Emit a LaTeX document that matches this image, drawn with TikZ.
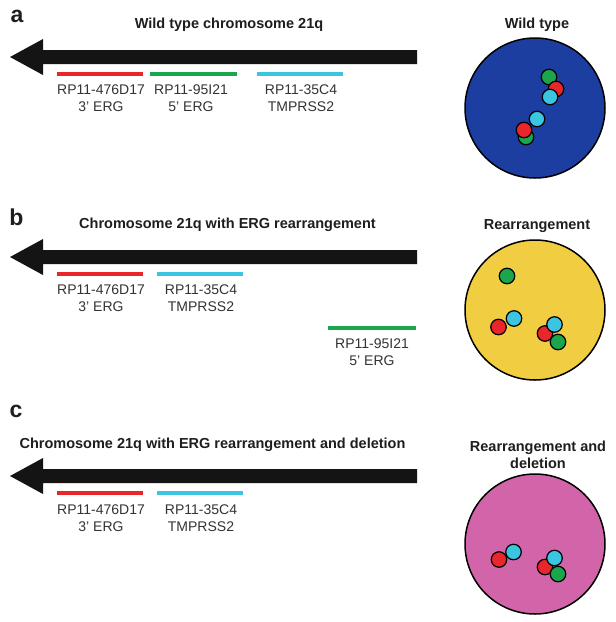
\documentclass[tikz,border=0pt]{standalone}
\usepackage{fontspec}
\setmainfont{Liberation Sans}
\usetikzlibrary{calc}
\definecolor{probered}{HTML}{E8262B}
\definecolor{probegreen}{HTML}{1BA54C}
\definecolor{probecyan}{HTML}{3CC5E0}
\definecolor{nucblue}{HTML}{1C3EA0}
\definecolor{nucyellow}{HTML}{F0CD41}
\definecolor{nucpink}{HTML}{D264AA}
\definecolor{labelgray}{HTML}{333333}
\definecolor{titlegray}{HTML}{1E1E1E}
\tikzset{
  panelletter/.style={font=\fontsize{23}{26}\selectfont\bfseries, text=titlegray, inner sep=0pt},
  paneltitle/.style={font=\fontsize{14.5}{17}\selectfont\bfseries, text=titlegray, inner sep=0pt, align=center},
  probelabel/.style={font=\fontsize{14}{17}\selectfont, text=labelgray, inner sep=0pt, align=center},
  probeline/.style={line width=4pt},
  chromfill/.style={fill=black!92},
  nucleus/.style={circle, draw=black, line width=1.5pt, minimum size=140pt, inner sep=0pt},
  dot/.style={circle, draw=black, line width=1.2pt, minimum size=15.5pt, inner sep=0pt},
}
\newcommand{\chromarrow}[2]{% #1 = name prefix, #2 = centre y
  \coordinate (#1tip) at (10,#2);
  \coordinate (#1end) at (417,#2);
  \fill[chromfill] (#1tip) -- ($(#1tip)+(33,-18)$) -- ($(#1tip)+(33,-7)$) -- ($(#1end)+(0,-7)$) -- ($(#1end)+(0,7)$) -- ($(#1tip)+(33,7)$) -- ($(#1tip)+(33,18)$) -- cycle;
}
\begin{document}
\begin{tikzpicture}[x=1pt,y=-1pt]
\useasboundingbox (0,0) rectangle (616,622);
\fill[white] (0,0) rectangle (616,622);

% ---------------- panel a ----------------
\node[panelletter] (la) at (17,16) {a};
\node[paneltitle] (ta) at (229,25) {Wild type chromosome 21q};
\chromarrow{a}{57}
\coordinate (ar1) at (57,73.5); \coordinate (ar2) at (143,73.5);
\coordinate (ag1) at (150,73.5); \coordinate (ag2) at (237,73.5);
\coordinate (ac1) at (257,73.5); \coordinate (ac2) at (343,73.5);
\draw[probeline, probered] (ar1) -- (ar2);
\draw[probeline, probegreen] (ag1) -- (ag2);
\draw[probeline, probecyan] (ac1) -- (ac2);
\node[probelabel] (alr) at (101,98.5) {RP11-476D17\\3' ERG};
\node[probelabel] (alg) at (191,98.5) {RP11-95I21\\5' ERG};
\node[probelabel] (alc) at (301,98.5) {RP11-35C4\\TMPRSS2};

\node[paneltitle] (na) at (537,25) {Wild type};
\node[nucleus, fill=nucblue] (ca) at (535,108) {};
\node[dot, fill=probegreen] (a1) at (549,77) {};
\node[dot, fill=probered] (a2) at (556,89) {};
\node[dot, fill=probecyan] (a3) at (550,97) {};
\node[dot, fill=probecyan] (a4) at (537,119) {};
\node[dot, fill=probegreen] (a6) at (526,137) {};
\node[dot, fill=probered] (a5) at (524,130) {};

% ---------------- panel b ----------------
\node[panelletter] (lb) at (16.5,217) {b};
\node[paneltitle] (tb) at (227.5,225) {Chromosome 21q with ERG rearrangement};
\chromarrow{b}{257}
\coordinate (br1) at (57,273.5); \coordinate (br2) at (143,273.5);
\coordinate (bc1) at (157,273.5); \coordinate (bc2) at (243,273.5);
\coordinate (bg1) at (328,328); \coordinate (bg2) at (416,328);
\draw[probeline, probered] (br1) -- (br2);
\draw[probeline, probecyan] (bc1) -- (bc2);
\draw[probeline, probegreen] (bg1) -- (bg2);
\node[probelabel] (blr) at (101,298.5) {RP11-476D17\\3' ERG};
\node[probelabel] (blc) at (201,298.5) {RP11-35C4\\TMPRSS2};
\node[probelabel] (blg) at (372,352.5) {RP11-95I21\\5' ERG};

\node[paneltitle] (nb) at (537,226) {Rearrangement};
\node[nucleus, fill=nucyellow] (cb) at (535,310) {};
\node[dot, fill=probegreen] (b1) at (507,276) {};
\node[dot, fill=probered] (b2) at (498.5,327) {};
\node[dot, fill=probecyan] (b3) at (514,318.5) {};
\node[dot, fill=probered] (b4) at (545,333.5) {};
\node[dot, fill=probegreen] (b6) at (558,342) {};
\node[dot, fill=probecyan] (b5) at (554.5,324.5) {};

% ---------------- panel c ----------------
\node[panelletter] (lc) at (16,411) {c};
\node[paneltitle] (tc) at (212.5,445) {Chromosome 21q with ERG rearrangement and deletion};
\chromarrow{c}{476}
\coordinate (cr1) at (57,492.7); \coordinate (cr2) at (143,492.7);
\coordinate (cc1) at (157,492.7); \coordinate (cc2) at (243,492.7);
\draw[probeline, probered] (cr1) -- (cr2);
\draw[probeline, probecyan] (cc1) -- (cc2);
\node[probelabel] (clr) at (101,518.5) {RP11-476D17\\3' ERG};
\node[probelabel] (clc) at (201,518.5) {RP11-35C4\\TMPRSS2};

\node[paneltitle] (nc) at (538,455) {Rearrangement and\\deletion};
\node[nucleus, fill=nucpink] (cc) at (535,544) {};
\node[dot, fill=probered] (c1) at (499,559.5) {};
\node[dot, fill=probecyan] (c2) at (513.5,552) {};
\node[dot, fill=probered] (c3) at (545,567) {};
\node[dot, fill=probegreen] (c5) at (558,574) {};
\node[dot, fill=probecyan] (c4) at (554.5,558) {};
\end{tikzpicture}
\end{document}
